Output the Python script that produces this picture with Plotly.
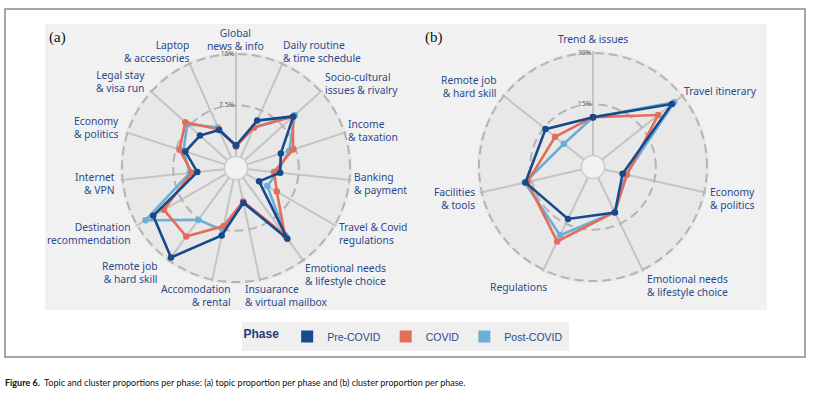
import plotly.graph_objects as go

W, H = 821, 394

topics = ["Global<br>news & info", "Daily routine<br>& time schedule", "Socio-cultural<br>issues & rivalry",
          "Income<br>& taxation", "Banking<br>& payment", "Travel & Covid<br>regulations",
          "Emotional needs<br>& lifestyle choice", "Insuarance<br>& virtual mailbox", "Accomodation<br>& rental",
          "Remote job<br>& hard skill", "Destination<br>recommendation", "Internet<br>& VPN",
          "Economy<br>& politics", "Legal stay<br>& visa run", "Laptop<br>& accessories"]
topic_pre = [1.6, 5.9, 9.6, 5.2, 4.8, 2.2, 11.1, 3.5, 8.4, 14.5, 12.3, 4.0, 6.1, 5.4, 4.4]
topic_covid = [1.5, 4.8, 9.5, 7.1, 3.9, 5.2, 10.5, 3.3, 7.0, 10.7, 10.5, 4.8, 7.0, 8.3, 4.5]
topic_post = [1.5, 4.8, 9.9, 6.5, 4.4, 3.6, 10.8, 3.4, 7.6, 7.7, 13.6, 5.1, 6.4, 7.9, 4.8]

clusters = ["Trend & issues", "Travel itinerary", "Economy<br>& politics",
            "Emotional needs<br>& lifestyle choice", "Regulations", "Facilities<br>& tools",
            "Remote job<br>& hard skill"]
cluster_pre = [11.2, 26.2, 5.5, 11.4, 13.5, 16.9, 14.4]
cluster_covid = [11.2, 21.0, 6.8, 11.3, 20.8, 16.3, 10.8]
cluster_post = [11.2, 27.0, 6.5, 11.3, 18.8, 17.1, 7.5]

phases = ["Pre-COVID", "COVID", "Post-COVID"]
colors = ["#174A8B", "#E26D5A", "#6BAED6"]

# label placement (pixel anchor x, center y, alignment) -- layout only
topic_label_pos = [(235, 40, "center"), (281, 51, "left"), (323, 83, "left"), (346, 130, "left"),
                   (352, 184, "left"), (337, 233, "left"), (303, 274, "left"), (243, 295, "left"),
                   (233, 295, "right"), (160, 272, "right"), (133, 233, "right"), (117, 183, "right"),
                   (121, 128, "right"), (147, 82, "right"), (191, 51, "right")]
cluster_label_pos = [(593, 39, "center"), (682, 91, "left"), (708, 198, "left"), (645, 285, "left"),
                     (549, 287, "right"), (477, 198, "right"), (499, 86, "right")]

fig = go.Figure()

def add_series(cats, vals_list, subplot):
    for i in [2, 1, 0]:
        v = vals_list[i]
        fig.add_trace(go.Scatterpolar(
            r=v + [v[0]], theta=cats + [cats[0]], mode="lines+markers",
            line=dict(color=colors[i], width=2.6), marker=dict(color=colors[i], size=6.5),
            showlegend=False, subplot=subplot, hoverinfo="skip"))

add_series(topics, [topic_pre, topic_covid, topic_post], "polar")
add_series(clusters, [cluster_pre, cluster_covid, cluster_post], "polar2")

for name, c in zip(phases, colors):
    fig.add_trace(go.Scatterpolar(r=[None], theta=[topics[0]], mode="markers", name=name,
                                  marker=dict(symbol="square", size=12, color=c), subplot="polar"))

def px_dom(cx, cy, rad):
    return dict(x=[(cx - rad) / W, (cx + rad) / W], y=[(H - (cy + rad)) / H, (H - (cy - rad)) / H])

def polar_layout(cx, cy, r_grid, tmax, ticks, ticktext, cats):
    rmax = tmax * 1.02
    rad = r_grid / (0.1 + 0.9 * tmax / rmax)
    return dict(
        domain=px_dom(cx, cy, rad), hole=0.1, bgcolor="#e8e8e8",
        radialaxis=dict(range=[0, rmax], tickvals=ticks, ticktext=ticktext, showline=False,
                        angle=90, tickangle=90, side="counterclockwise", ticks="",
                        gridcolor="#b4b4b4", gridwidth=1.8, griddash="9px,5px",
                        tickfont=dict(size=7, color="#666666", family="Noto Sans")),
        angularaxis=dict(direction="clockwise", rotation=90, categoryarray=cats, categoryorder="array",
                         gridcolor="#c4c4c4", gridwidth=1.6, showline=False, ticks="",
                         showticklabels=False),
    )

annotations = []
for cats, poss in [(topics, topic_label_pos), (clusters, cluster_label_pos)]:
    for txt, (x, y, al) in zip(cats, poss):
        annotations.append(dict(text=txt, x=x / W, y=(H - y) / H, xref="paper", yref="paper",
                                xanchor=al, yanchor="middle", align=al, showarrow=False,
                                font=dict(size=10.3, color="#2B4A8A", family="Noto Sans")))
annotations += [
    dict(text="(a)", x=47 / W, y=(H - 37) / H, xref="paper", yref="paper", xanchor="left", yanchor="middle",
         showarrow=False, font=dict(size=15, family="Liberation Serif", color="#111111")),
    dict(text="(b)", x=423 / W, y=(H - 37) / H, xref="paper", yref="paper", xanchor="left", yanchor="middle",
         showarrow=False, font=dict(size=15, family="Liberation Serif", color="#111111")),
    dict(text="<b>Figure 6.</b>  Topic and cluster proportions per phase: (a) topic proportion per phase and (b) cluster proportion per phase.",
         x=3 / W, y=(H - 382) / H, xref="paper", yref="paper", xanchor="left", yanchor="middle",
         showarrow=False, font=dict(size=9, family="Lato, sans-serif", color="#111111")),
]

def prect(x0, y0, x1, y1, **kw):
    return dict(type="rect", xref="paper", yref="paper", x0=x0 / W, x1=x1 / W,
                y0=(H - y1) / H, y1=(H - y0) / H, layer="below", **kw)

def pcircle(cx, cy, r):
    return dict(type="circle", xref="paper", yref="paper", x0=(cx - r) / W, x1=(cx + r) / W,
                y0=(H - cy - r) / H, y1=(H - cy + r) / H, line=dict(color="#cccccc", width=1.5),
                fillcolor="rgba(0,0,0,0)", layer="above")

white = dict(line=dict(width=0), fillcolor="white")
shapes = [
    prect(-2, -2, W + 2, 24, **white), prect(-2, 310, W + 2, H + 2, **white),
    prect(-2, -2, 45, H + 2, **white), prect(767, -2, W + 2, H + 2, **white),
    prect(5, 9, 805, 357, line=dict(color="#8a8a8a", width=1.5), fillcolor="rgba(0,0,0,0)"),
    pcircle(236, 168, 11.6), pcircle(593, 167, 11.6),
]

fig.update_layout(
    width=W, height=H, margin=dict(l=0, r=0, t=0, b=0),
    paper_bgcolor="#f1f1f1",
    polar=polar_layout(236, 168, 114, 15, [0, 7.5, 15], ["", "7.5%", "15%"], topics),
    polar2=polar_layout(593, 167, 114, 30, [0, 15, 30], ["", "15%", "30%"], clusters),
    legend=dict(orientation="h", x=405 / W, xanchor="center", y=(H - 322) / H, yanchor="top",
                bgcolor="#efefef", title=dict(text="<b>Phase</b>", font=dict(size=12, color="#1F3D7A",
                                                                              family="Liberation Sans")),
                font=dict(size=10.5, color="#2B4A8A", family="Liberation Sans"), itemsizing="constant",
                itemwidth=30, tracegroupgap=0, traceorder="normal"),
    shapes=shapes, annotations=annotations,
)

fig.write_html("out.html", config={"displayModeBar": False},
               post_script="document.body.style.margin='0';")
